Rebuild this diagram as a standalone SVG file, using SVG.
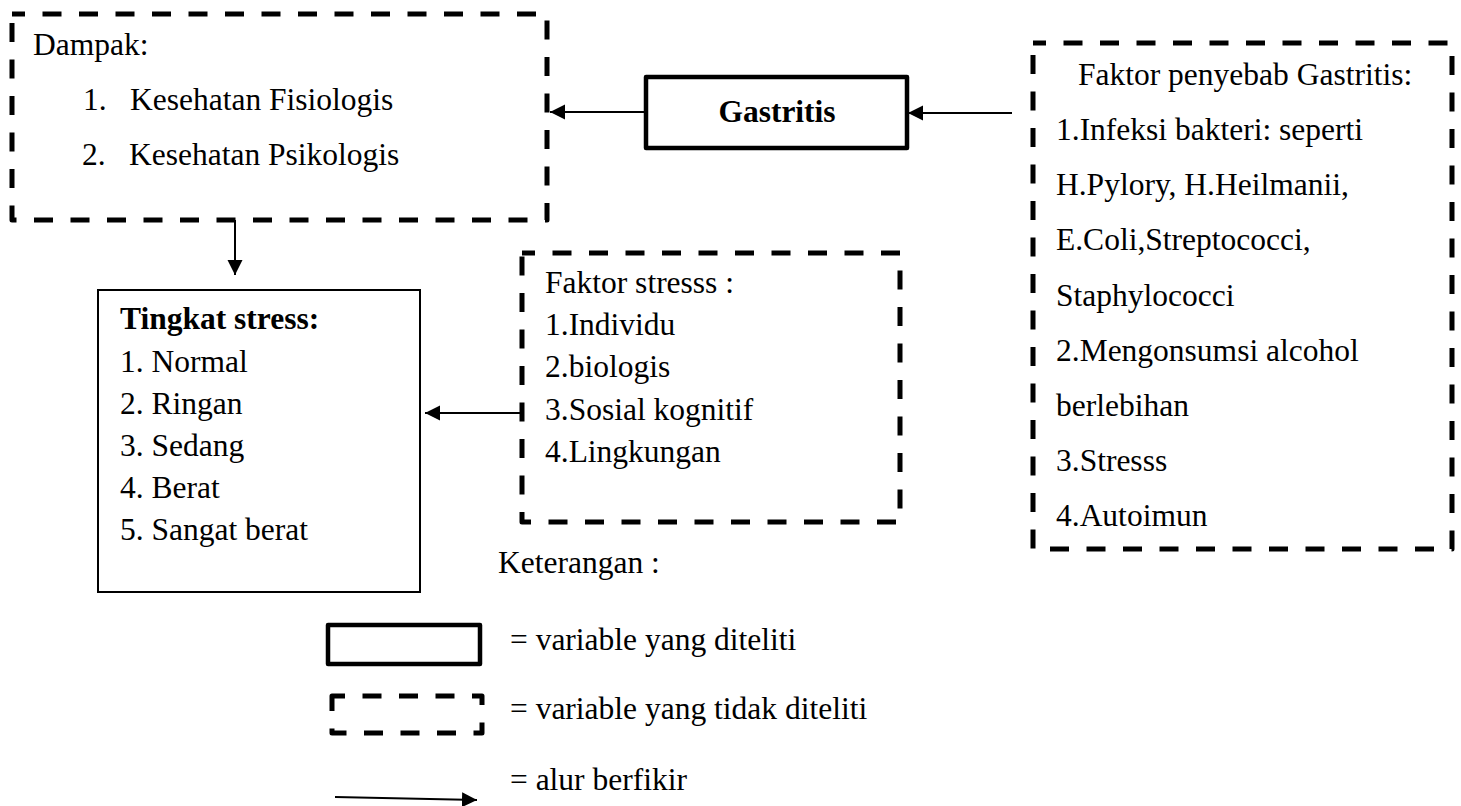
<svg xmlns="http://www.w3.org/2000/svg" width="1461" height="806" viewBox="0 0 1461 806">
<style>
  text { font-family: "Liberation Serif", "Times New Roman", serif; font-size: 31.5px; fill: #000; }
  .b { font-weight: bold; }
  .dash { fill: none; stroke: #000; stroke-width: 5; stroke-dasharray: 19 17.5; stroke-dashoffset: 6; stroke-linejoin: round; }
  .solid { fill: none; stroke: #000; stroke-width: 4.5; stroke-linejoin: round; }
  .thin { fill: none; stroke: #000; stroke-width: 2; }
  .conn { fill: none; stroke: #000; stroke-width: 2; marker-end: url(#arr); }
</style>
<defs>
  <marker id="arr" markerUnits="userSpaceOnUse" markerWidth="16" markerHeight="16" refX="15" refY="7.5" orient="auto">
    <path d="M0,0 L15,7.5 L0,15 z" fill="#000"/>
  </marker>
</defs>
<rect width="1461" height="806" fill="#fff"/>

<g id="dampak">
  <rect class="dash" x="12" y="14" width="535" height="206"/>
  <text x="33" y="55">Dampak:</text>
  <text y="110"><tspan x="83">1.</tspan><tspan x="130">Kesehatan Fisiologis</tspan></text>
  <text y="165"><tspan x="82">2.</tspan><tspan x="129">Kesehatan Psikologis</tspan></text>
</g>

<g id="gastritis">
  <rect class="solid" x="646" y="77" width="261" height="71"/>
  <text class="b" x="777" y="122" text-anchor="middle">Gastritis</text>
</g>

<g id="faktor-penyebab">
  <rect class="dash" x="1033" y="43" width="419" height="506"/>
  <text x="1078" y="85">Faktor penyebab Gastritis:</text>
  <text x="1056" y="140">1.Infeksi bakteri: seperti</text>
  <text x="1056" y="195">H.Pylory, H.Heilmanii,</text>
  <text x="1056" y="250">E.Coli,Streptococci,</text>
  <text x="1056" y="306">Staphylococci</text>
  <text x="1056" y="361">2.Mengonsumsi alcohol</text>
  <text x="1056" y="416">berlebihan</text>
  <text x="1056" y="471">3.Stresss</text>
  <text x="1056" y="526">4.Autoimun</text>
</g>

<g id="faktor-stress">
  <rect class="dash" x="522" y="253" width="378" height="269"/>
  <text x="545" y="293">Faktor stresss :</text>
  <text x="545" y="335">1.Individu</text>
  <text x="545" y="377">2.biologis</text>
  <text x="545" y="420">3.Sosial kognitif</text>
  <text x="545" y="462">4.Lingkungan</text>
</g>

<g id="tingkat-stress">
  <rect class="thin" x="98" y="290" width="322" height="302"/>
  <text class="b" x="120" y="329">Tingkat stress:</text>
  <text x="120" y="372">1. Normal</text>
  <text x="120" y="414">2. Ringan</text>
  <text x="120" y="456">3. Sedang</text>
  <text x="120" y="498">4. Berat</text>
  <text x="120" y="540">5. Sangat berat</text>
</g>

<g id="keterangan">
  <text x="498" y="573">Keterangan :</text>
  <rect class="solid" x="328" y="625" width="152" height="39"/>
  <text x="510" y="650">= variable yang diteliti</text>
  <rect class="dash" x="332" y="696" width="150" height="37"/>
  <text x="510" y="719">= variable yang tidak diteliti</text>
  <line class="conn" x1="335" y1="797" x2="477" y2="800"/>
  <text x="510" y="790">= alur berfikir</text>
</g>

<g id="connectors">
  <line class="conn" x1="646" y1="112" x2="550" y2="112"/>
  <line class="conn" x1="1012" y1="113" x2="908" y2="113"/>
  <line class="conn" x1="235" y1="220" x2="235" y2="275"/>
  <line class="conn" x1="522" y1="413" x2="425" y2="413"/>
</g>
</svg>
